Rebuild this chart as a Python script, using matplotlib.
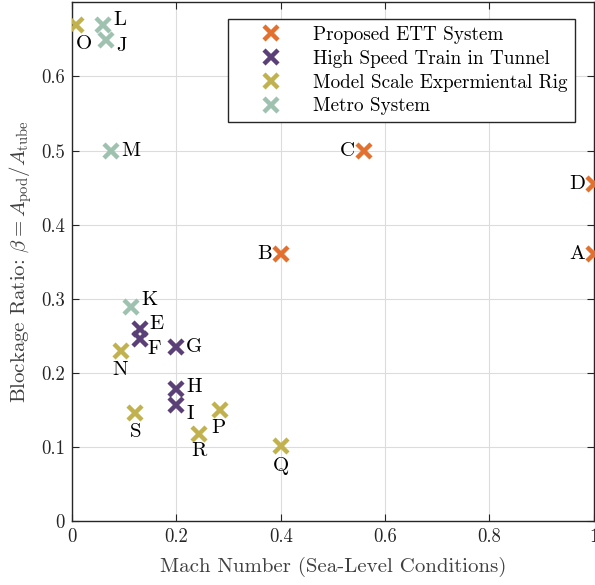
import matplotlib
matplotlib.use("Agg")
import matplotlib.pyplot as plt

plt.rcParams['font.family'] = ['cmr10', 'DejaVu Serif']
plt.rcParams['mathtext.fontset'] = 'cm'
plt.rcParams['axes.formatter.use_mathtext'] = True

# data
groups = ['Proposed ETT System', 'High Speed Train in Tunnel',
          'Model Scale Expermiental Rig', 'Metro System']
colors = ['#E2712F', '#5B3F77', '#C2B24F', '#9FC2B0']

ett_lbl = ['A', 'B', 'C', 'D']
ett_mach = [1.0, 0.4, 0.56, 1.0]
ett_beta = [0.36, 0.36, 0.50, 0.455]

hst_lbl = ['E', 'F', 'G', 'H', 'I']
hst_mach = [0.13, 0.13, 0.20, 0.20, 0.20]
hst_beta = [0.26, 0.246, 0.235, 0.178, 0.157]

rig_lbl = ['N', 'O', 'P', 'Q', 'R', 'S']
rig_mach = [0.093, 0.008, 0.284, 0.40, 0.243, 0.121]
rig_beta = [0.229, 0.67, 0.150, 0.101, 0.118, 0.146]

met_lbl = ['J', 'K', 'L', 'M']
met_mach = [0.065, 0.113, 0.060, 0.075]
met_beta = [0.649, 0.289, 0.669, 0.50]

series = [(ett_lbl, ett_mach, ett_beta), (hst_lbl, hst_mach, hst_beta),
          (rig_lbl, rig_mach, rig_beta), (met_lbl, met_mach, met_beta)]

# where each letter sits relative to its marker (pixels, ha, va)
place = {
    'A': (-9, 0, 'right', 'center'), 'B': (-9, 0, 'right', 'center'),
    'C': (-9, 0, 'right', 'center'), 'D': (-9, 0, 'right', 'center'),
    'E': (10, 4, 'left', 'center'), 'F': (8, -10, 'left', 'center'),
    'G': (10, 0, 'left', 'center'), 'H': (10, 2, 'left', 'center'),
    'I': (10, -9, 'left', 'center'), 'J': (10, -6, 'left', 'center'),
    'K': (10, 7, 'left', 'center'), 'L': (10, 5, 'left', 'center'),
    'M': (10, 0, 'left', 'center'), 'N': (0, -19, 'center', 'center'),
    'O': (8, -19, 'center', 'center'), 'P': (-2, -18, 'center', 'center'),
    'Q': (0, -20, 'center', 'center'), 'R': (0, -17, 'center', 'center'),
    'S': (0, -19, 'center', 'center'),
}

fig = plt.figure(figsize=(5.95, 5.85), dpi=100)
ax = fig.add_axes([0.121, 0.109, 0.877, 0.887])

for (lbl, mx, by), name, c in zip(series, groups, colors):
    ax.plot(mx, by, 'x', color=c, ms=10, mew=3.2, label=name, zorder=3)
    for t, x, y in zip(lbl, mx, by):
        dx, dy, ha, va = place[t]
        ax.annotate(t, (x, y), xytext=(dx, dy), textcoords='offset pixels',
                    ha=ha, va=va, fontsize=15, color='black')

ax.set_xlim(0, 1)
ax.set_ylim(0, 0.7)
ax.set_xticks([0, 0.2, 0.4, 0.6, 0.8, 1.0])
ax.set_xticklabels(['0', '0.2', '0.4', '0.6', '0.8', '1'])
ax.set_yticks([0, 0.1, 0.2, 0.3, 0.4, 0.5, 0.6])
ax.set_yticklabels(['0', '0.1', '0.2', '0.3', '0.4', '0.5', '0.6'])
ax.grid(True, color='#dcdcdc', lw=0.8)
ax.set_axisbelow(True)
ax.tick_params(direction='in', top=True, right=True, length=5, pad=5,
               labelsize=13.5, colors='#262626')
for s in ax.spines.values():
    s.set_color('#262626')
    s.set_linewidth(1.0)

ax.set_xlabel('Mach Number (Sea-Level Conditions)', fontsize=15,
              color='#404040', labelpad=8)
ax.set_ylabel(r'Blockage Ratio: $\beta = A_{\rm pod}/A_{\rm tube}$',
              fontsize=15, color='#404040', labelpad=5)

leg = ax.legend(loc='upper right', bbox_to_anchor=(0.963, 0.967),
                fontsize=13.8, frameon=True, fancybox=False, handlelength=3.8,
                handletextpad=0.3, borderpad=0.35, labelspacing=0.3,
                borderaxespad=0)
leg.get_frame().set_edgecolor('#262626')
leg.get_frame().set_linewidth(1.0)
leg.get_frame().set_alpha(1)

fig.savefig('out.png', dpi=100)
